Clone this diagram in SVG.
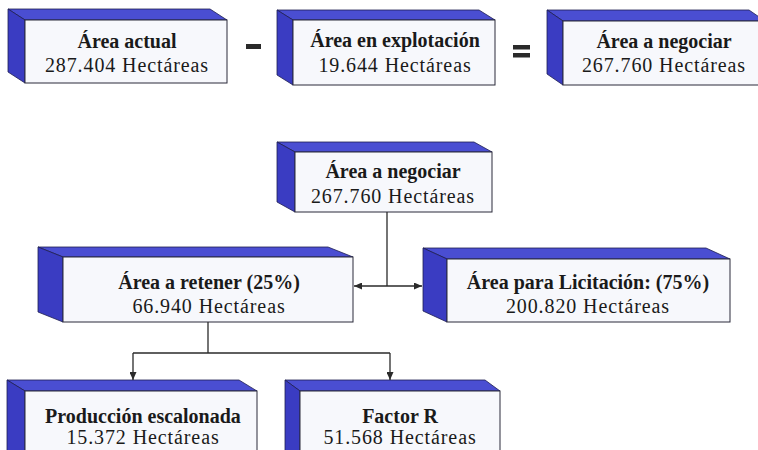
<svg xmlns="http://www.w3.org/2000/svg" width="758" height="450" viewBox="0 0 758 450">
<style>
.front{fill:#f7f8fc;stroke:#2a2a3a;stroke-width:1}
.top{fill:#4a4ed2;stroke:#1e1e50;stroke-width:0.8}
.side{fill:#3a3cc2;stroke:#1e1e50;stroke-width:0.8}
.t1{font-family:"Liberation Serif","Times New Roman",serif;font-weight:bold;font-size:20px;fill:#1a1a1a;text-anchor:middle}
.t2{font-family:"Liberation Serif","Times New Roman",serif;font-size:20px;fill:#1a1a1a;text-anchor:middle;letter-spacing:0.9px}
.conn{stroke:#2a2a2a;stroke-width:1.3;fill:none}
.op{fill:#2a2a2a}
</style>
<defs>
<marker id="ah" markerUnits="userSpaceOnUse" markerWidth="9" markerHeight="7" refX="8" refY="3.5" orient="auto-start-reverse">
<path d="M0,0 L8,3.5 L0,7 z" fill="#2a2a2a"/>
</marker>
</defs>
<rect width="758" height="450" fill="#ffffff"/>

<g id="area-actual">
<polygon class="top" points="8,9 210,9 227,20 25,20"/>
<polygon class="side" points="8,9 25,20 25,83 8,72"/>
<rect class="front" x="25" y="20" width="202" height="63"/>
<text class="t1" x="127" y="48">Área actual</text>
<text class="t2" x="127" y="72">287.404 Hectáreas</text>
</g>

<g id="minus">
<rect class="op" x="246" y="44" width="15" height="5"/>
</g>

<g id="area-explotacion">
<polygon class="top" points="277,10 479,10 495,20 293,20"/>
<polygon class="side" points="277,10 293,20 293,85 277,75"/>
<rect class="front" x="293" y="20" width="202" height="65"/>
<text class="t1" x="395" y="47">Área en explotación</text>
<text class="t2" x="395" y="71.5">19.644 Hectáreas</text>
</g>

<g id="equals">
<rect class="op" x="513" y="45" width="17" height="4.5"/>
<rect class="op" x="513" y="53" width="17" height="4.5"/>
</g>

<g id="area-negociar-top">
<polygon class="top" points="547,10 749,10 765,21 563,21"/>
<polygon class="side" points="547,10 563,21 563,85 547,74"/>
<rect class="front" x="563" y="21" width="202" height="64"/>
<text class="t1" x="664" y="48">Área a negociar</text>
<text class="t2" x="664" y="72">267.760 Hectáreas</text>
</g>

<g id="area-negociar">
<polygon class="top" points="277,142 474,142 492,152 295,152"/>
<polygon class="side" points="277,142 295,152 295,212 277,202"/>
<rect class="front" x="295" y="152" width="197" height="60"/>
<text class="t1" x="393" y="178">Área a negociar</text>
<text class="t2" x="393" y="203">267.760 Hectáreas</text>
</g>

<g id="area-retener">
<polygon class="top" points="38,247 328,247 353,257 63,257"/>
<polygon class="side" points="38,247 63,257 63,322 38,312"/>
<rect class="front" x="63" y="257" width="290" height="65"/>
<text class="t1" x="209" y="289">Área a retener (25%)</text>
<text class="t2" x="209" y="313">66.940 Hectáreas</text>
</g>

<g id="area-licitacion">
<polygon class="top" points="423,248 706,248 730,259 447,259"/>
<polygon class="side" points="423,248 447,259 447,322 423,311"/>
<rect class="front" x="447" y="259" width="283" height="63"/>
<text class="t1" x="588" y="289">Área para Licitación: (75%)</text>
<text class="t2" x="588" y="313">200.820 Hectáreas</text>
</g>

<g id="produccion-escalonada">
<polygon class="top" points="7,380 239,380 257,391 25,391"/>
<polygon class="side" points="7,380 25,391 25,462 7,451"/>
<rect class="front" x="25" y="391" width="232" height="70"/>
<text class="t1" x="143" y="423">Producción escalonada</text>
<text class="t2" x="143" y="444">15.372 Hectáreas</text>
</g>

<g id="factor-r">
<polygon class="top" points="285,380 485,380 500,391 300,391"/>
<polygon class="side" points="285,380 300,391 300,462 285,451"/>
<rect class="front" x="300" y="391" width="200" height="70"/>
<text class="t1" x="400" y="423">Factor R</text>
<text class="t2" x="400" y="444">51.568 Hectáreas</text>
</g>

<g id="connectors">
<line class="conn" x1="387" y1="212" x2="387" y2="286"/>
<line class="conn" x1="354" y1="286" x2="422" y2="286" marker-start="url(#ah)" marker-end="url(#ah)"/>
<line class="conn" x1="208" y1="322" x2="208" y2="353"/>
<line class="conn" x1="133" y1="353" x2="390" y2="353"/>
<line class="conn" x1="133" y1="353" x2="133" y2="380" marker-end="url(#ah)"/>
<line class="conn" x1="390" y1="353" x2="390" y2="380" marker-end="url(#ah)"/>
</g>
</svg>
